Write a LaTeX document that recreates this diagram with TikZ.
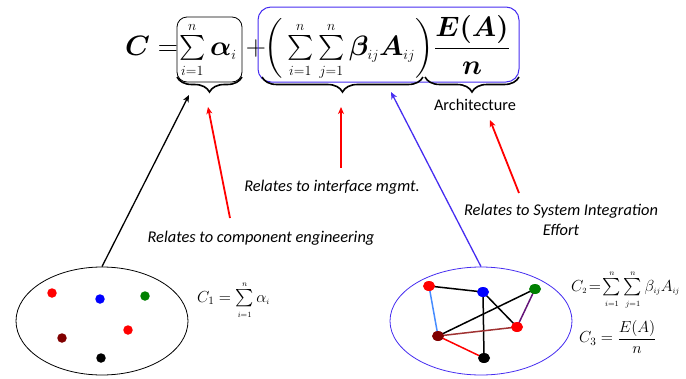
\RequirePackage{fix-cm}
\documentclass[tikz,border=0pt]{standalone}
\usepackage{fontspec}
\usepackage{amsmath}
\usepackage{bm}
\newfontfamily\calib{Carlito}
\usetikzlibrary{arrows.meta,decorations.pathreplacing,shapes.geometric}
\definecolor{eqblue}{RGB}{70,45,240}
\definecolor{dkred}{RGB}{128,0,0}
\definecolor{dkgreen}{RGB}{0,128,0}
\definecolor{ltblue}{RGB}{70,140,255}
\definecolor{purp}{RGB}{100,20,120}
\definecolor{brn}{RGB}{160,50,50}
\begin{document}
\begin{tikzpicture}[x=1pt,y=-1pt,
  big/.style={inner sep=0pt,font=\fontsize{28}{34}\selectfont},
  small/.style={inner sep=0pt,font=\fontsize{16}{19}\selectfont},
  lbl/.style={inner sep=0pt,font=\calib\itshape\fontsize{16.4}{20}\selectfont,align=center},
  brc/.style={decorate,decoration={brace,mirror,amplitude=15pt},line width=1.6pt},
  arr/.style={line width=1.3pt,-{Stealth[length=7pt,width=6pt,inset=2pt]}},
  dotA/.style={circle,inner sep=0pt,minimum size=9.5pt,draw=none},
  dotB/.style={ellipse,inner sep=0pt,minimum width=12pt,minimum height=10pt,draw=none},
  edge/.style={line width=1.5pt}]
\useasboundingbox (0,0) rectangle (686,378);
% main equation
\node[big,anchor=base west] (ceq) at (125,55) {$\bm{C}=$};
\node[big,anchor=base west] (s1) at (179,55) {$\textstyle\sum\limits_{\scriptscriptstyle i=1}^{\scriptscriptstyle n}\bm{\alpha}_{\scriptscriptstyle i}$};
\node[big,anchor=base] (plus) at (256,55) {$+$};
\node[big,anchor=base west] (s2) at (264,55) {$\Big(\textstyle\sum\limits_{\scriptscriptstyle i=1}^{\scriptscriptstyle n}\sum\limits_{\scriptscriptstyle j=1}^{\scriptscriptstyle n}\bm{\beta}_{\scriptscriptstyle ij}\bm{A}_{\scriptscriptstyle ij}\Big)$};
\node[big,anchor=base] (frac) at (472,55) {$\dfrac{\bm{E(A)}}{\bm{n}}$};
% boxes
\draw[rounded corners=10pt,line width=0.8pt] (177,17) rectangle (242,82);
\draw[eqblue,rounded corners=13pt,line width=1pt] (258,7) rectangle (519,82);
% braces
\coordinate (b1l) at (177,77); \coordinate (b1r) at (242,77);
\coordinate (b2l) at (262,77); \coordinate (b2r) at (423,77);
\coordinate (b3l) at (425,77); \coordinate (b3r) at (519,77);
\draw[brc] (b1l) -- (b1r);
\draw[brc] (b2l) -- (b2r);
\draw[brc] (b3l) -- (b3r);
\node[inner sep=0pt,font=\calib\fontsize{16.3}{19}\selectfont] (arch) at (475,105) {Architecture};
% labels
\node[lbl] (l1) at (332,187) {Relates to interface mgmt.};
\node[lbl] (l2) at (261,238) {Relates to component engineering};
\node[lbl] (l3) at (561,220) {Relates to System Integration\\Effort};
% ellipses
\node[ellipse,draw,line width=0.8pt,minimum width=172pt,minimum height=108pt,inner sep=0pt] (e1) at (102,321) {};
\node[ellipse,draw=eqblue,line width=0.8pt,minimum width=182pt,minimum height=108pt,inner sep=0pt] (e2) at (481,321) {};
% left dots
\node[dotA,fill=red] (a1) at (52,293) {};
\node[dotA,fill=blue] (a2) at (100,299) {};
\node[dotA,fill=dkgreen] (a3) at (145,296) {};
\node[dotA,fill=red] (a4) at (128,330) {};
\node[dotA,fill=dkred] (a5) at (62,338) {};
\node[dotA,fill=black] (a6) at (101,358) {};
% right graph edges (drawn first)
\coordinate (p1) at (429,286);
\coordinate (p2) at (483,292);
\coordinate (p3) at (535,289);
\coordinate (p4) at (517,327);
\coordinate (p5) at (438,336);
\coordinate (p6) at (484,358);
\draw[edge,black] (p1) -- (p2);
\draw[edge,ltblue] (p1) -- (p5);
\draw[edge,black] (p2) -- (p6);
\draw[edge,black] (p2) -- (p4);
\draw[edge,black] (p3) -- (p5);
\draw[edge,purp] (p3) -- (p4);
\draw[edge,brn] (p5) -- (p4);
\draw[edge,red] (p5) -- (p6);
% right dots
\node[dotB,fill=red] (r1) at (p1) {};
\node[dotB,fill=blue] (r2) at (p2) {};
\node[dotB,fill=dkgreen] (r3) at (p3) {};
\node[dotB,fill=red] (r4) at (p4) {};
\node[dotB,fill=dkred] (r5) at (p5) {};
\node[dotB,fill=black] (r6) at (p6) {};
% formulas
\node[small,anchor=west] (c1) at (197,300) {$C_1=\textstyle\sum\limits_{\scriptscriptstyle i=1}^{\scriptscriptstyle n}\alpha_{\scriptscriptstyle i}$};
\node[small,anchor=west] (c2) at (571,290) {$C_{\scriptscriptstyle 2}\!=\!\textstyle\sum\limits_{\scriptscriptstyle i=1}^{\scriptscriptstyle n}\sum\limits_{\scriptscriptstyle j=1}^{\scriptscriptstyle n}\beta_{\scriptscriptstyle ij}A_{\scriptscriptstyle ij}$};
\node[small,anchor=west] (c3) at (579,337) {$C_3=\dfrac{E(A)}{n}$};
% arrows
\coordinate (t1) at (189,95);
\coordinate (t2) at (208,107);
\coordinate (t3) at (341,107);
\coordinate (t4) at (391,92);
\coordinate (t5) at (490,120);
\coordinate (f2) at (230,218);
\coordinate (f3) at (341,168);
\coordinate (f5) at (519,193);
\draw[arr,black] (e1.north) -- (t1);
\draw[arr,red,line width=1.8pt] (f2) -- (t2);
\draw[arr,red,line width=1.8pt] (f3) -- (t3);
\draw[arr,eqblue] (e2.north) -- (t4);
\draw[arr,red,line width=1.8pt] (f5) -- (t5);
\end{tikzpicture}
\end{document}
